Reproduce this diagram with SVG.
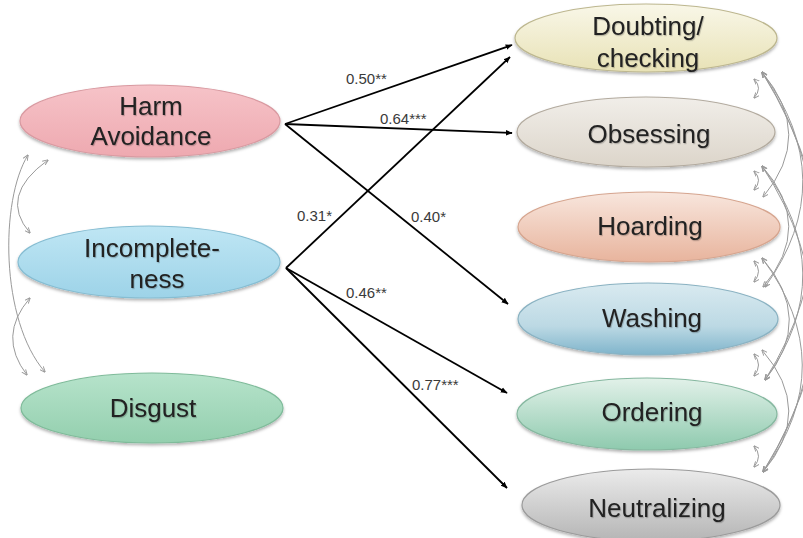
<svg xmlns="http://www.w3.org/2000/svg" width="803" height="538" viewBox="0 0 803 538">
<defs>
<style>
.lbl{font-family:"Liberation Sans",Arial,sans-serif;font-size:26px;fill:#222;text-anchor:middle;filter:url(#ts)}
.coef{font-family:"Liberation Sans",Arial,sans-serif;font-size:15px;fill:#3a3a3a}
.path{fill:none;stroke:#000;stroke-width:1.8;marker-end:url(#ah)}
.cov{fill:none;stroke:#9a9a9a;stroke-width:1;marker-start:url(#gh);marker-end:url(#gh)}
.ell{filter:url(#es);stroke-width:1.2}
</style>
<filter id="es" x="-10%" y="-20%" width="120%" height="150%">
<feDropShadow dx="0" dy="2" stdDeviation="1.5" flood-color="#000" flood-opacity="0.3"/>
</filter>
<filter id="ts" x="-10%" y="-20%" width="120%" height="150%">
<feDropShadow dx="0.8" dy="1.2" stdDeviation="0.7" flood-color="#000" flood-opacity="0.22"/>
</filter>
<marker id="ah" viewBox="0 0 10 10" refX="9" refY="5" markerWidth="7" markerHeight="7" markerUnits="userSpaceOnUse" orient="auto">
<path d="M0,1 L10,5 L0,9 Z" fill="#000"/>
</marker>
<marker id="gh" viewBox="0 0 10 10" refX="9" refY="5" markerWidth="6" markerHeight="6" markerUnits="userSpaceOnUse" orient="auto-start-reverse">
<path d="M0,1 L10,5 L0,9" fill="none" stroke="#9a9a9a" stroke-width="1.6"/>
</marker>
<linearGradient id="gHA" x1="0" y1="0" x2="0" y2="1"><stop offset="0" stop-color="#f6c3c8"/><stop offset="1" stop-color="#eea9b0"/></linearGradient>
<linearGradient id="gIN" x1="0" y1="0" x2="0" y2="1"><stop offset="0" stop-color="#bfe6f4"/><stop offset="1" stop-color="#9dd3e8"/></linearGradient>
<linearGradient id="gDI" x1="0" y1="0" x2="0" y2="1"><stop offset="0" stop-color="#b6e3cb"/><stop offset="1" stop-color="#93cfae"/></linearGradient>
<linearGradient id="gDC" x1="0" y1="0" x2="0" y2="1"><stop offset="0" stop-color="#f9f7e8"/><stop offset="1" stop-color="#e8e2b6"/></linearGradient>
<linearGradient id="gOB" x1="0" y1="0" x2="0" y2="1"><stop offset="0" stop-color="#f1eee9"/><stop offset="1" stop-color="#dcd5ca"/></linearGradient>
<linearGradient id="gHO" x1="0" y1="0" x2="0" y2="1"><stop offset="0" stop-color="#f8e6dd"/><stop offset="1" stop-color="#e8b49d"/></linearGradient>
<linearGradient id="gWA" x1="0" y1="0" x2="0" y2="1"><stop offset="0" stop-color="#d9eaf0"/><stop offset="0.6" stop-color="#bcd9e4"/><stop offset="1" stop-color="#7fb4cb"/></linearGradient>
<linearGradient id="gOR" x1="0" y1="0" x2="0" y2="1"><stop offset="0" stop-color="#e2f1e9"/><stop offset="1" stop-color="#8ecaae"/></linearGradient>
<linearGradient id="gNE" x1="0" y1="0" x2="0" y2="1"><stop offset="0" stop-color="#ebebeb"/><stop offset="1" stop-color="#b5b5b5"/></linearGradient>
</defs>
<rect width="803" height="538" fill="#fff"/>

<g id="connectors">
<path class="path" d="M285 124 L512 45"/>
<path class="path" d="M285 124 L512 133"/>
<path class="path" d="M285 124 L508 304"/>
<path class="path" d="M286 268 L510 57"/>
<path class="path" d="M286 268 L507 393"/>
<path class="path" d="M286 268 L507 488"/>
<text class="coef" x="346" y="84">0.50**</text>
<text class="coef" x="380" y="124">0.64***</text>
<text class="coef" x="297" y="221">0.31*</text>
<text class="coef" x="411" y="222">0.40*</text>
<text class="coef" x="346" y="298">0.46**</text>
<text class="coef" x="412" y="390">0.77***</text>

<!-- left covariances -->
<path class="cov" d="M48 160 Q-2 196 30 233"/>
<path class="cov" d="M28 155 C0 200 0 320 45 372"/>
<path class="cov" d="M30 298 Q-3 336 27 375"/>

<!-- right short covariances -->
<path class="cov" d="M754 79 Q763 88 754 98"/>
<path class="cov" d="M754 171 Q763 180 754 190"/>
<path class="cov" d="M754 261 Q763 271 754 282"/>
<path class="cov" d="M754 354 Q763 365 754 376"/>
<path class="cov" d="M754 446 Q763 456 754 467"/>

<!-- right long covariances -->
<path class="cov" d="M762 72 Q815 135 763 197"/>
<path class="cov" d="M762 72 Q842 180 765 287"/>
<path class="cov" d="M762 72 Q862 226 765 380"/>
<path class="cov" d="M762 72 Q885 272 763 472"/>
<path class="cov" d="M762 166 Q815 226 763 287"/>
<path class="cov" d="M762 166 Q842 273 765 380"/>
<path class="cov" d="M762 166 Q862 319 763 472"/>
<path class="cov" d="M762 258 Q815 319 765 380"/>
<path class="cov" d="M762 258 Q842 365 763 472"/>
<path class="cov" d="M762 350 Q815 411 763 472"/>
</g>

<g id="harm-avoidance">
<ellipse class="ell" cx="150" cy="121" rx="130" ry="36" fill="url(#gHA)" stroke="#d99aa1"/>
<text class="lbl" x="151" y="115">Harm</text>
<text class="lbl" x="151" y="145">Avoidance</text>
</g>
<g id="incompleteness">
<ellipse class="ell" cx="149" cy="262" rx="131" ry="36" fill="url(#gIN)" stroke="#86bdd2"/>
<text class="lbl" x="152" y="257">Incomplete-</text>
<text class="lbl" x="157" y="288">ness</text>
</g>
<g id="disgust">
<ellipse class="ell" cx="152" cy="408" rx="131" ry="35" fill="url(#gDI)" stroke="#7fbb9a"/>
<text class="lbl" x="153" y="417">Disgust</text>
</g>

<g id="doubting-checking">
<ellipse class="ell" cx="646" cy="38" rx="131" ry="34" fill="url(#gDC)" stroke="#bdb78f"/>
<text class="lbl" x="648" y="35">Doubting/</text>
<text class="lbl" x="648" y="67">checking</text>
</g>
<g id="obsessing">
<ellipse class="ell" cx="646" cy="132" rx="129" ry="35" fill="url(#gOB)" stroke="#b3ab9f"/>
<text class="lbl" x="649" y="143">Obsessing</text>
</g>
<g id="hoarding">
<ellipse class="ell" cx="649" cy="227" rx="131" ry="35" fill="url(#gHO)" stroke="#d6a58f"/>
<text class="lbl" x="650" y="235">Hoarding</text>
</g>
<g id="washing">
<ellipse class="ell" cx="648" cy="319" rx="130" ry="36" fill="url(#gWA)" stroke="#8ab2c2"/>
<text class="lbl" x="652" y="327">Washing</text>
</g>
<g id="ordering">
<ellipse class="ell" cx="647" cy="414" rx="130" ry="36" fill="url(#gOR)" stroke="#86b8a0"/>
<text class="lbl" x="652" y="421">Ordering</text>
</g>
<g id="neutralizing">
<ellipse class="ell" cx="651" cy="505" rx="129" ry="36" fill="url(#gNE)" stroke="#9b9b9b"/>
<text class="lbl" x="657" y="517">Neutralizing</text>
</g>
</svg>
